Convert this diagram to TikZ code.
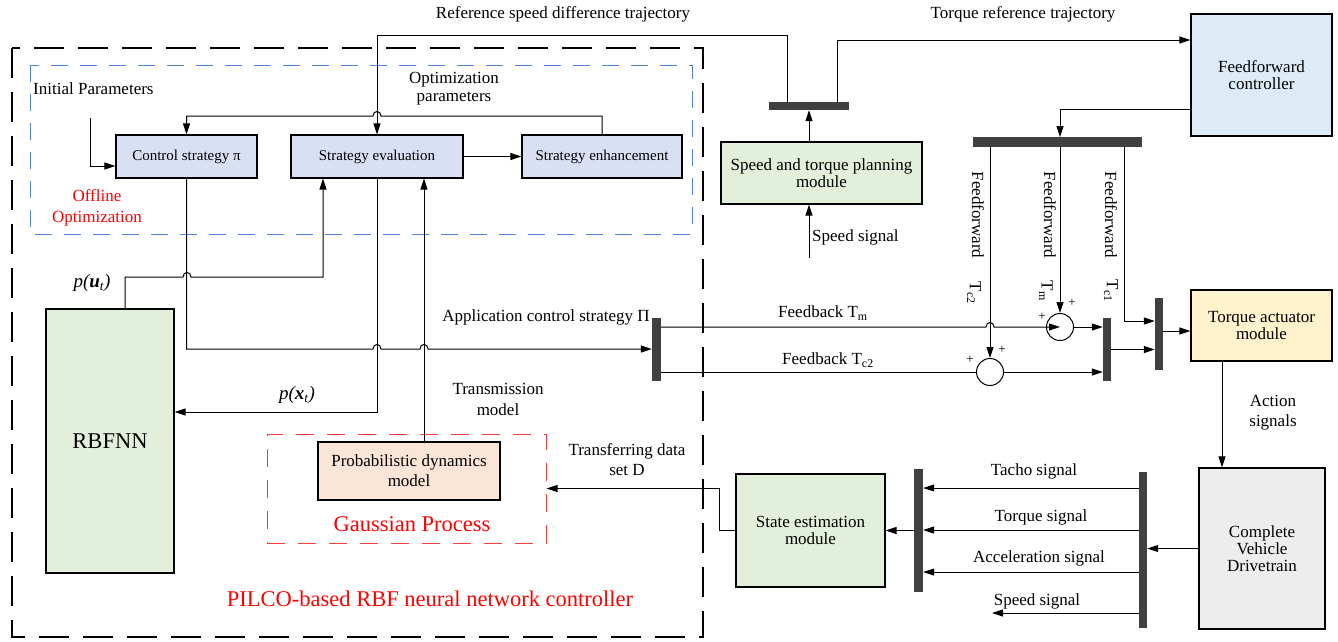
\documentclass[tikz,border=0pt]{standalone}
\usepackage{fontspec}
\setmainfont{Liberation Serif}
\usetikzlibrary{arrows.meta}
\definecolor{lav}{RGB}{218,224,243}
\definecolor{lgreen}{RGB}{226,239,218}
\definecolor{lblue}{RGB}{221,235,247}
\definecolor{lyellow}{RGB}{255,242,204}
\definecolor{lgray}{RGB}{237,237,237}
\definecolor{peach}{RGB}{251,229,214}
\definecolor{bardark}{RGB}{64,64,64}
\definecolor{dashblue}{RGB}{82,130,220}
\definecolor{dashred}{RGB}{255,60,60}
\newcommand\fsmain{\fontsize{17}{18}\selectfont}
\newcommand\fsbox{\fontsize{17}{17}\selectfont}
\newcommand\fssmall{\fontsize{15}{16}\selectfont}
\newcommand\fsbig{\fontsize{22.5}{24}\selectfont}
\newcommand\fsplus{\fontsize{13}{13}\selectfont}
\tikzset{
  box/.style={draw, line width=1.2pt, inner sep=2pt, align=center, font=\fsbox},
  bar/.style={fill=bardark, draw=none, inner sep=0},
  arr/.style={line width=1pt, -{Triangle[length=11pt,width=7pt]}},
  con/.style={line width=1pt},
  lbl/.style={inner sep=0, align=center, font=\fsmain},
  sumc/.style={circle, draw, line width=1pt, minimum size=27pt, inner sep=0, fill=white},
}
\begin{document}
\begin{tikzpicture}[x=1pt,y=-1pt]
\useasboundingbox (0,0) rectangle (1338,641);

% dashed frames
\draw[line width=1.5pt, dash pattern=on 30pt off 14pt] (12,48) rectangle (703,637);
\draw[dashblue, line width=1pt, dash pattern=on 17pt off 12pt] (30,65) rectangle (692,234);
\node[draw=dashred, line width=1pt, dash pattern=on 18pt off 13pt, minimum width=279pt, minimum height=109pt, inner sep=0] (gp) at (406.5,488.5) {};

% boxes
\node[box, fill=lav, font=\fssmall, minimum width=141pt, minimum height=43pt] (cs) at (186.5,156.5) {Control strategy π};
\node[box, fill=lav, font=\fssmall, minimum width=172pt, minimum height=43pt] (ev) at (377,156.5) {Strategy evaluation};
\node[box, fill=lav, font=\fssmall, minimum width=160pt, minimum height=43pt] (en) at (602,156.5) {Strategy enhancement};
\node[box, fill=lgreen, minimum width=201pt, minimum height=62pt] (sp) at (821.5,173) {Speed and torque planning\\module};
\node[box, fill=lblue, minimum width=141pt, minimum height=122pt] (ff) at (1261.5,75) {Feedforward\\controller};
\node[box, fill=lyellow, minimum width=141pt, minimum height=71pt] (ta) at (1261.5,325.5) {Torque actuator\\module};
\node[box, fill=lgray, minimum width=126pt, minimum height=161pt] (cv) at (1262,548.5) {Complete\\Vehicle\\Drivetrain};
\node[box, fill=lgreen, minimum width=149pt, minimum height=113pt] (se) at (810.5,530.5) {State estimation\\module};
\node[box, fill=peach, minimum width=182pt, minimum height=58pt] (pd) at (409,471) {Probabilistic dynamics\\[3pt]model};
\node[box, fill=lgreen, font=\fsbig, minimum width=128pt, minimum height=264pt] (rb) at (110,441) {RBFNN};

% bars
\node[bar, minimum width=80pt, minimum height=8pt] (b1) at (809,106) {};
\node[bar, minimum width=169pt, minimum height=9.5pt] (b2) at (1057.5,142) {};
\node[bar, minimum width=9pt, minimum height=63pt] (b3) at (656.5,349.5) {};
\node[bar, minimum width=8pt, minimum height=63pt] (b4) at (1107,349.5) {};
\node[bar, minimum width=8pt, minimum height=72pt] (b5) at (1159,334) {};
\node[bar, minimum width=8pt, minimum height=156pt] (b6) at (1143,550) {};
\node[bar, minimum width=9pt, minimum height=123pt] (b7) at (918.5,530.5) {};

% summing junctions
\node[sumc] (s1) at (1060,327) {};
\node[sumc] (s2) at (990,372) {};

% free-end coordinates
\coordinate (ip) at (90,118);
\coordinate (ss) at (809,258);
\coordinate (spd) at (992,613);
\coordinate (c1) at (1124,321);
\coordinate (act) at (1222,0);

% labels
\node[lbl, anchor=west] (tip) at (33,89) {Initial Parameters};
\node[lbl, text=red] (toff) at (97,207.5) {Offline\\[3pt]Optimization};
\node[lbl] (topt) at (454,89) {Optimization\\parameters};
\node[lbl] (tref) at (563,14) {Reference speed difference trajectory};
\node[lbl] (ttrq) at (1023,14) {Torque reference trajectory};
\node[lbl, anchor=west] (tss) at (812,237) {Speed signal};
\node[lbl] (tapp) at (546,317) {Application control strategy Π};
\node[lbl, anchor=west] (tfbm) at (778,313) {Feedback T\textsubscript{m}};
\node[lbl, anchor=west] (tfbc) at (782,360) {Feedback T\textsubscript{c2}};
\node[lbl] (ttm) at (498,399.5) {Transmission\\[3pt]model};
\node[lbl, font=\fontsize{19}{20}\selectfont] (tpx) at (297,395) {\itshape p(\textbf{x}\textsubscript{t})};
\node[lbl, font=\fontsize{19}{20}\selectfont] (tpu) at (92,283) {\itshape p(\textbf{u}\textsubscript{t})};
\node[lbl] (ttd) at (627,460) {Transferring data\\[2pt]set D};
\node[lbl, text=red, font=\fsbig] (tgp) at (412,524) {Gaussian Process};
\node[lbl, text=red, font=\fsbig] (tpil) at (430,599) {PILCO-based RBF neural network controller};
\node[lbl] (tact) at (1273,413) {Action\\[2pt]signals};
\node[lbl] (ttacho) at (1034,471) {Tacho signal};
\node[lbl] (ttorq) at (1041,517) {Torque signal};
\node[lbl] (tacc) at (1039,558) {Acceleration signal};
\node[lbl] (tspd) at (1037,601) {Speed signal};
\node[lbl, rotate=-90] (tff1) at (978,215) {Feedforward};
\node[lbl, rotate=-90] (tff2) at (1050,215) {Feedforward};
\node[lbl, rotate=-90] (tff3) at (1111,215) {Feedforward};
\node[lbl, rotate=-90] (tt1) at (974,293) {T\textsubscript{c2}};
\node[lbl, rotate=-90] (tt2) at (1046,291) {T\textsubscript{m}};
\node[lbl, rotate=-90] (tt3) at (1111,291) {T\textsubscript{c1}};
\node[lbl, font=\fsplus] (p1) at (1042,317) {+};
\node[lbl, font=\fsplus] (p2) at (1072,303) {+};
\node[lbl, font=\fsplus] (p3) at (970,360) {+};
\node[lbl, font=\fsplus] (p4) at (1002,350) {+};

% connectors: offline optimisation loop
\draw[arr] (ip) |- ([yshift=-9.5]cs.west);
\draw[arr] (en.north) -- (en.north |- 0,116) -- (381,116) .. controls (381,110) and (373,110) .. (373,116) -- (cs.north |- 0,116) -- (cs.north);
\draw[arr] (ev.east) -- (en.west);
\draw[arr] ([xshift=-22]b1.north) -- ([xshift=-22]b1.north |- 0,35) -- (ev.north |- 0,35) -- (ev.north);
\draw[arr] ([xshift=28]b1.north) |- ([yshift=35]ff.west);
\draw[arr] (sp.north -| b1) -- (b1.south);
\draw[arr] (ss) -- (sp.south -| ss);

% RBFNN and strategy evaluation
\draw[arr] ([xshift=15]rb.north) -- ([xshift=15]rb.north |- 0,277) -- (183,277) .. controls (183,271) and (191,271) .. (191,277) -- (323,277) -- (ev.south -| 323,0);
\draw[arr] (ev.south) -- (ev.south |- 0,412) -- (rb.east |- 0,412);
\draw[arr] (cs.south) -- (cs.south |- 0,349) -- (373,349) .. controls (373,343) and (381,343) .. (381,349) -- (420,349) .. controls (420,343) and (428,343) .. (428,349) -- (b3.west |- 0,349);
\draw[arr] (pd.north -| 424,0) -- (ev.south -| 424,0);
\draw[arr] (se.west) -- ++(-16,0) |- (gp.east);

% feedforward / feedback part
\draw[arr] ([yshift=-34]ff.west) -| (b2.north -| s1);
\draw[arr] (b2.south -| s2) -- (s2.north);
\draw[arr] (b2.south -| s1) -- (s1.north);
\draw[arr] (b2.south -| c1) |- (b5.west |- c1);
\draw[arr] (b3.east |- s1) -- (986,327) .. controls (986,321) and (994,321) .. (994,327) -- (s1.center);
\draw[con] (b3.east |- s2) -- (s2.west);
\draw[arr] (s1.east) -- (b4.west |- s1);
\draw[arr] (s2.east) -- (b4.west |- s2);
\draw[arr] (b4.east) -- (b5.west |- b4.east);
\draw[arr] ([yshift=3]b5.east) -- (ta.west |- 0,331);
\draw[arr] (ta.south -| act) -- (cv.north -| act);

% sensor signals
\draw[arr] (cv.west) -- (b6.east |- cv.west);
\draw[arr] (b6.west |- 0,488) -- (b7.east |- 0,488);
\draw[arr] (b6.west |- 0,530) -- (b7.east |- 0,530);
\draw[arr] (b6.west |- 0,572) -- (b7.east |- 0,572);
\draw[arr] (b6.west |- spd) -- (spd);
\draw[arr] (b7.west) -- (se.east |- b7.west);
\end{tikzpicture}
\end{document}
